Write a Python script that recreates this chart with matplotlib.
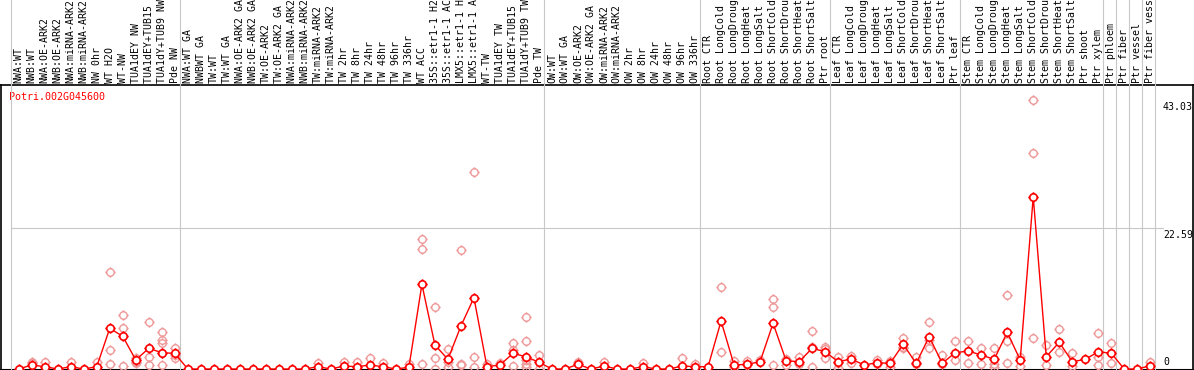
import matplotlib
matplotlib.use("Agg")
import matplotlib.pyplot as plt
import matplotlib.transforms as mtransforms
from matplotlib.path import Path

plt.rcParams['font.family'] = ['DejaVu Sans Mono']

GENE = 'Potri.002G045600'

# sample labels, grouped the way the separators split them
GROUPS = [
    ['NWA:WT', 'NWB:WT', 'NWA:OE-ARK2', 'NWB:OE-ARK2', 'NWA:miRNA-ARK2',
     'NWB:miRNA-ARK2', 'NW 0hr', 'WT H2O', 'WT-NW', 'TUA1dEY NW',
     'TUA1dEY+TUB15 NW', 'TUA1dY+TUB9 NW', 'Pde NW'],
    ['NWA:WT GA', 'NWBWT GA', 'TW:WT', 'TW:WT GA', 'NWA:OE-ARK2 GA',
     'NWB:OE-ARK2 GA', 'TW:OE-ARK2', 'TW:OE-ARK2 GA', 'NWA:miRNA-ARK2 GA',
     'NWB:miRNA-ARK2 GA', 'TW:miRNA-ARK2', 'TW:miRNA-ARK2 GA', 'TW 2hr',
     'TW 8hr', 'TW 24hr', 'TW 48hr', 'TW 96hr', 'TW 336hr', 'WT ACC',
     '35S::etr1-1 H2O', '35S::etr1-1 ACC', 'LMX5::etr1-1 H2O',
     'LMX5::etr1-1 ACC', 'WT-TW', 'TUA1dEY TW', 'TUA1dEY+TUB15 TW',
     'TUA1dY+TUB9 TW', 'Pde TW'],
    ['OW:WT', 'OW:WT GA', 'OW:OE-ARK2', 'OW:OE-ARK2 GA', 'OW:miRNA-ARK2',
     'OW:miRNA-ARK2 GA', 'OW 2hr', 'OW 8hr', 'OW 24hr', 'OW 48hr', 'OW 96hr',
     'OW 336hr'],
    ['Root CTR', 'Root LongCold', 'Root LongDrought', 'Root LongHeat',
     'Root LongSalt', 'Root ShortCold', 'Root ShortDrought', 'Root ShortHeat',
     'Root ShortSalt', 'Ptr root'],
    ['Leaf CTR', 'Leaf LongCold', 'Leaf LongDrought', 'Leaf LongHeat',
     'Leaf LongSalt', 'Leaf ShortCold', 'Leaf ShortDrought', 'Leaf ShortHeat',
     'Leaf ShortSalt', 'Ptr leaf'],
    ['Stem CTR', 'Stem LongCold', 'Stem LongDrought', 'Stem LongHeat',
     'Stem LongSalt', 'Stem ShortCold', 'Stem ShortDrought', 'Stem ShortHeat',
     'Stem ShortSalt', 'Ptr shoot', 'Ptr xylem'],
    ['Ptr phloem'],
    ['Ptr fiber'],
    ['Ptr vessel'],
    ['Ptr fiber vessel'],
]

# mean expression per sample (red line)
MEANS = [
    0, 0.64, 0.37, 0, 0.37, 0, 0.37, 6.52, 5.24, 1.44, 3.32, 2.61, 2.5,
    0, 0, 0, 0, 0, 0, 0, 0, 0, 0, 0.37, 0, 0.48, 0.37, 0.64, 0.37, 0, 0.27,
    13.57, 3.85, 1.55, 6.89, 11.43, 0.37, 0.64, 2.5, 1.97, 1.07,
    0, 0, 0.75, 0, 0.48, 0, 0, 0.37, 0, 0, 0.48, 0.37,
    0.37, 7.69, 0.64, 0.75, 1.17, 7.32, 1.33, 1.17, 3.32, 2.77,
    1.17, 1.6, 0.64, 1.01, 0.91, 3.96, 0.91, 5.18, 0.91, 2.61,
    2.88, 2.24, 1.55, 5.88, 1.44, 27.6, 1.97, 4.28, 1.17, 1.55, 2.77,
    2.52, 0, 0, 0.53,
]

# individual replicates per sample (pink circles)
REPLICATES = [
    [], [1.17, 0.91], [1.17], [], [1.17], [], [1.07],
    [15.6, 3.04, 0.75], [8.65, 6.52, 0.53], [1.7, 1.17, 0.91],
    [7.58, 1.97, 0.64], [5.98, 4.65, 4.12, 2.5, 0.64], [3.41, 2.3, 1.81],
    [], [], [], [], [], [], [], [], [], [], [0.91], [], [1.17], [1.17],
    [1.71], [0.91], [], [0.8],
    [20.8, 19.2, 0.8], [9.94, 1.71, 0], [3.16, 1.17, 0.32],
    [19.07, 0.8, 0.64], [31.5, 1.87, 0.37], [0.8], [0.91],
    [4.21, 3.04, 0.48], [8.33, 4.49, 1.44, 0.8, 0.32], [2.24, 0],
    [], [], [1.17], [], [1.07], [], [], [1.01], [], [], [1.76], [0.75],
    [], [13.14, 2.72], [1.33, 0.37], [1.33, 0.64], [1.44],
    [11.2, 9.94, 0.64], [1.55, 0.64], [1.87, 0.75], [6.09, 3.5, 0.37],
    [3.57, 3.2, 1.71],
    [1.87, 0.91, 0.1], [2.08, 0.91], [], [1.44, 0.75], [1.28, 0.37],
    [4.92, 3.57, 3.4], [1.87, 0.75], [7.48, 4.7, 3.32], [2.24, 0.75],
    [4.54, 1.44],
    [4.54, 1.01], [3.32, 0.8], [3.32, 0.75, 0.27], [11.86, 4.54, 1.0],
    [1.9, 0.48], [43.03, 34.6, 4.92], [3.85, 0.64], [6.41, 2.77],
    [2.52, 0.48], [], [5.72, 1.97, 0.64],
    [4.12, 0.91], [], [], [1.17],
]

Y_TICKS = [0, 22.59, 43.03]

RED = '#FF0000'
PINK = '#EE9999'
GRID = '#C8C8C8'

# circle with four short nubs, like the old gif markers
_spike = 1.4
NUB_CIRCLE = Path.make_compound_path(
    Path.unit_circle(),
    Path([[1, 0], [_spike, 0]], [Path.MOVETO, Path.LINETO]),
    Path([[-1, 0], [-_spike, 0]], [Path.MOVETO, Path.LINETO]),
    Path([[0, 1], [0, _spike]], [Path.MOVETO, Path.LINETO]),
    Path([[0, -1], [0, -_spike]], [Path.MOVETO, Path.LINETO]),
)

labels = [lab for g in GROUPS for lab in g]
xs = list(range(len(labels)))

W, H = 1194, 370
fig = plt.figure(figsize=(W / 100, H / 100), dpi=100)
fig.patch.set_facecolor('white')

# pixel layer for frame and header
ax0 = fig.add_axes([0, 0, 1, 1])
ax0.set_xlim(0, W)
ax0.set_ylim(H, 0)
ax0.axis('off')

px_left, px_right = 10.7, 1155.3
px_top, px_zero = 85, 369
px_per_unit = 6.24

ax = fig.add_axes([px_left / W, (H - px_zero) / H,
                   (px_right - px_left) / W, (px_zero - px_top) / H])
ax.patch.set_visible(False)
ax.axis('off')
off = 0.615
ax.set_xlim(-off, len(labels) - off)
ax.set_ylim(0, (px_zero - px_top) / px_per_unit)

# frame
ax0.plot([0, W], [px_top, px_top], color='black', lw=1.2)
ax0.plot([0, W], [px_zero + 0.5, px_zero + 0.5], color='black', lw=1.5)
ax0.plot([1, 1], [px_top, H], color='black', lw=1.2)
ax0.plot([W - 1.3, W - 1.3], [px_top, H], color='black', lw=1.2)

# group separators (run through header as well)
bounds = [0]
for g in GROUPS:
    bounds.append(bounds[-1] + len(g))
ext = (px_zero - 0) / (px_zero - px_top)
for b in bounds:
    ax.axvline(b - off, ymin=0, ymax=ext, color=GRID, lw=0.8, clip_on=False,
               zorder=0)

# gridline at the middle tick
xmax_frac = (1163 - px_left) / (px_right - px_left)
ax.axhline(Y_TICKS[1], xmin=0, xmax=xmax_frac, color=GRID, lw=0.8,
           clip_on=False, zorder=0)

# y tick labels on the right
tr_y = mtransforms.blended_transform_factory(ax.transAxes, ax.transData)
for t in Y_TICKS:
    txt = '0' if t == 0 else f'{t:.2f}'
    ax.text(xmax_frac, t + (0.4 if t == 0 else -0.25), txt, transform=tr_y,
            ha='left', va='bottom' if t == 0 else 'top', fontsize=7.1,
            color='black', clip_on=False)

# sample labels in the header
tr_h = mtransforms.blended_transform_factory(ax.transData, ax0.transData)
for x, lab in zip(xs, labels):
    ax.text(x, 83, lab, transform=tr_h, rotation=90, ha='center',
            va='bottom', fontsize=7.1, color='black', clip_on=False)

# gene name
ax0.text(9.3, 97, GENE, color=RED, fontsize=7.2, ha='left', va='center')

# replicates
rx = [x for x, r in zip(xs, REPLICATES) for _ in r]
ry = [v for r in REPLICATES for v in r]
ax.plot(rx, ry, ls='none', marker=NUB_CIRCLE, ms=7.5, mew=1.0, mfc='none',
        mec=PINK, clip_on=False, zorder=2)

# mean line
ax.plot(xs, MEANS, color=RED, lw=1.0, clip_on=False, zorder=3)
ax.plot(xs, MEANS, ls='none', marker=NUB_CIRCLE, ms=7.5, mew=1.2,
        mfc='white', mec=RED, clip_on=False, zorder=5)

fig.savefig('out.png', dpi=100, facecolor='white')
